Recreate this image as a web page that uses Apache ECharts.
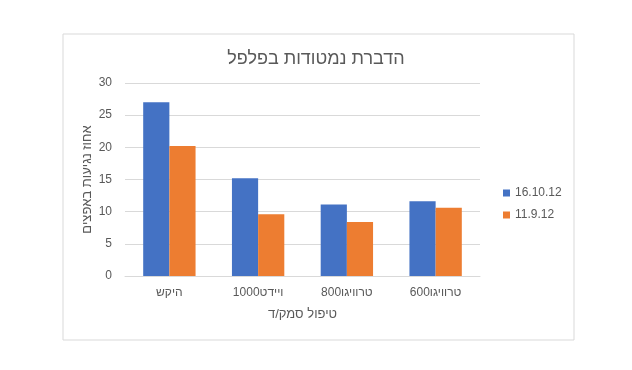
<!DOCTYPE html>
<html><head><meta charset="utf-8">
<script src="https://cdn.jsdelivr.net/npm/echarts@6/dist/echarts.min.js"></script>
<style>html,body{margin:0;padding:0;background:#fff}#c{width:632px;height:370px}</style>
</head><body><div id="c"></div>
<script>
const categories = ['היקש', 'ויידט1000', 'טרוויגו800', 'טרוויגו600'];
const series1Name = '16.10.12';
const series1 = [27, 15.2, 11.1, 11.6];
const series2Name = '11.9.12';
const series2 = [20.2, 9.6, 8.4, 10.6];
const yTicks = [0, 5, 10, 15, 20, 25, 30];

const FONT = '"Liberation Sans", Arial, sans-serif';
const TXT = '#595959';
const chart = echarts.init(document.getElementById('c'), null, {renderer: 'canvas'});
chart.setOption({
  animation: false,
  backgroundColor: '#fff',
  textStyle: {fontFamily: FONT},
  graphic: [{
    type: 'rect', left: 60.5, top: 31.5,
    shape: {width: 511, height: 306},
    style: {fill: 'none', stroke: '#d9d9d9', lineWidth: 1},
    z: -1
  }],
  title: {
    text: 'הדברת נמטודות בפלפל',
    left: 311, top: 45, textAlign: 'center',
    textStyle: {fontFamily: FONT, fontSize: 18, fontWeight: 'normal', color: TXT}
  },
  legend: {
    orient: 'vertical', left: 498, top: 182,
    itemWidth: 7, itemHeight: 7, itemGap: 10,
    icon: 'rect',
    textStyle: {fontFamily: FONT, fontSize: 12, color: TXT},
    data: [series1Name, series2Name]
  },
  grid: {left: 125, right: 152, top: 83, bottom: 94, containLabel: false},
  xAxis: {
    type: 'category', data: categories,
    axisLine: {show: true, lineStyle: {color: '#d9d9d9'}},
    axisTick: {show: false},
    axisLabel: {fontFamily: FONT, fontSize: 12, color: TXT, margin: 11},
    name: 'טיפול סמק/ד', nameLocation: 'middle', nameGap: 32, nameMoveOverlap: false,
    nameTextStyle: {fontFamily: FONT, fontSize: 13, color: TXT}
  },
  yAxis: {
    type: 'value', min: yTicks[0], max: yTicks[yTicks.length - 1], interval: 5,
    axisLine: {show: false}, axisTick: {show: false},
    axisLabel: {fontFamily: FONT, fontSize: 12, color: TXT, margin: 13},
    splitLine: {lineStyle: {color: '#d9d9d9'}},
    name: 'אחוז נגיעות באפצים', nameLocation: 'middle', nameGap: 31, nameRotate: 90,
    nameMoveOverlap: false,
    nameTextStyle: {fontFamily: FONT, fontSize: 13, color: TXT}
  },
  series: [
    {name: series1Name, type: 'bar', data: series1, barGap: '0%', barCategoryGap: '41%',
     itemStyle: {color: '#4472C4'}},
    {name: series2Name, type: 'bar', data: series2, barGap: '0%', barCategoryGap: '41%',
     itemStyle: {color: '#ED7D31'}}
  ]
});
</script></body></html>
